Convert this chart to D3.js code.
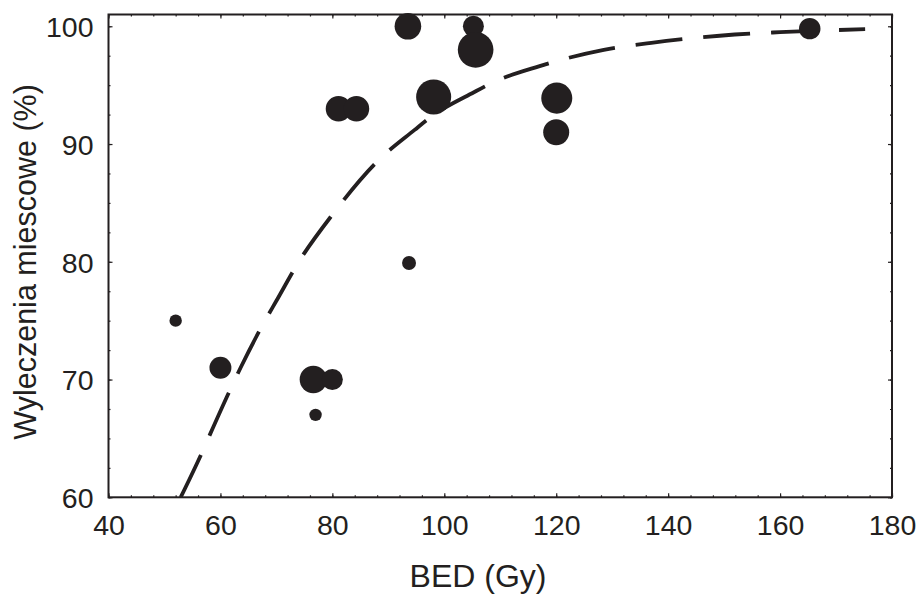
<!DOCTYPE html>
<meta charset="utf-8">
<head>
    <script type="text/javascript" src="https://d3js.org/d3.v7.min.js"></script>
    <style>
        body { margin: 0; background: #fff; }
        text { font-family: "Liberation Sans", Arial, sans-serif; fill: #231f20; }
        .tick line { stroke: #231f20; }
    </style>
    <title>BED vs wyleczenia miescowe</title>
</head>
<body>
    <script>
        // data
        var bed     = [52, 60, 76.6, 80, 77, 81.1, 84.3, 93.5, 105.2, 105.6, 98.1, 120.1, 120, 165.3, 93.7];
        var control = [75, 71, 70, 70, 67, 93, 93, 100, 100, 98, 94, 93.9, 91, 99.8, 79.9];
        var patients = [15, 47, 73, 43, 15, 64, 64, 69, 43, 124, 120, 94, 66, 45, 19];

        // fitted dashed curve
        var fitBed = [52.9, 56.8, 58.1, 62.0, 63.6, 68.2, 69.9, 74, 80, 88.2, 94.7, 97.3, 105.3, 109, 116.9, 120.5, 128.5, 137, 145.6, 151.9, 160, 175.2];
        var fitVal = [60.0, 63.9, 65.3, 69.4, 71.0, 75.2, 76.6, 80.0, 84.0, 88.6, 91.2, 92.2, 94.4, 95.3, 96.6, 97.1, 98.0, 98.6, 99.05, 99.3, 99.5, 99.75];

        var xTicks = [40, 60, 80, 100, 120, 140, 160, 180];
        var yTicks = [60, 70, 80, 90, 100];

        var margin = {top: 14.5, left: 108.5};
        var width = 783.5, height = 482.8;
        var ink = "#231f20";

        var svg = d3.select("body").append("svg")
            .attr("width", 916)
            .attr("height", 595);
        var g = svg.append("g")
            .attr("transform", "translate(" + margin.left + "," + margin.top + ")");

        var x = d3.scaleLinear().domain([40, 180]).range([0, width]);
        var y = d3.scaleLinear().domain([60, 101]).range([height, 0]);
        var r = d3.scaleSqrt().domain([0, 125]).range([0, 17.9]);

        g.append("clipPath").attr("id", "clip")
            .append("rect").attr("width", width).attr("height", height);

        // minor ticks on all four sides (inward)
        function ticks(axis, tr) {
            var a = g.append("g").attr("transform", tr).call(axis);
            a.select(".domain").remove();
            a.selectAll("line").attr("stroke-width", 1.2);
            return a;
        }
        var xMinor = d3.range(40, 181, 4), yMinor = d3.range(60, 101, 2.5);
        ticks(d3.axisBottom(x).tickValues(xMinor).tickSize(-2).tickFormat(""), "translate(0," + height + ")");
        ticks(d3.axisTop(x).tickValues(xMinor).tickSize(-2).tickFormat(""), "translate(0,0)");
        ticks(d3.axisLeft(y).tickValues(yMinor).tickSize(-2).tickFormat(""), "translate(0,0)");
        ticks(d3.axisRight(y).tickValues(yMinor).tickSize(-2).tickFormat(""), "translate(" + width + ",0)");

        // major ticks with labels
        var xa = ticks(d3.axisBottom(x).tickValues(xTicks).tickSize(-4).tickPadding(0).tickFormat(d3.format("d")), "translate(0," + height + ")");
        xa.selectAll("text").attr("font-size", 28.5).attr("y", 37.5).attr("dy", 0);
        ticks(d3.axisTop(x).tickValues(xTicks).tickSize(-4).tickFormat(""), "translate(0,0)");
        var ya = ticks(d3.axisLeft(y).tickValues(yTicks).tickSize(-4).tickFormat(d3.format("d")), "translate(0,0)");
        ya.selectAll("text").attr("font-size", 28.5).attr("x", -15).attr("dy", "0.36em");
        ticks(d3.axisRight(y).tickValues(yTicks).tickSize(-4).tickFormat(""), "translate(" + width + ",0)");

        // frame
        g.append("rect")
            .attr("width", width)
            .attr("height", height)
            .attr("fill", "none")
            .attr("stroke", ink)
            .attr("stroke-width", 2);

        // dashed fit
        var fit = fitBed.map(function(d, i) { return [d, fitVal[i]]; });
        var line = d3.line()
            .x(function(d) { return x(d[0]); })
            .y(function(d) { return y(d[1]); })
            .curve(d3.curveMonotoneX);
        g.append("path")
            .datum(fit)
            .attr("clip-path", "url(#clip)")
            .attr("d", line)
            .attr("fill", "none")
            .attr("stroke", ink)
            .attr("stroke-width", 3.8)
            .attr("stroke-dasharray", "47,21");

        // bubbles
        g.selectAll("circle.pt")
            .data(bed)
            .enter()
            .append("circle")
            .attr("class", "pt")
            .attr("cx", function(d) { return x(d); })
            .attr("cy", function(d, i) { return y(control[i]); })
            .attr("r", function(d, i) { return r(patients[i]); })
            .attr("fill", ink);

        // axis titles
        svg.append("text")
            .attr("x", 478)
            .attr("y", 587)
            .attr("text-anchor", "middle")
            .attr("font-size", 32)
            .text("BED (Gy)");
        svg.append("text")
            .attr("transform", "translate(36,262) rotate(-90)")
            .attr("text-anchor", "middle")
            .attr("font-size", 30.5)
            .text("Wyleczenia miescowe (%)");
    </script>
</body>
</html>
